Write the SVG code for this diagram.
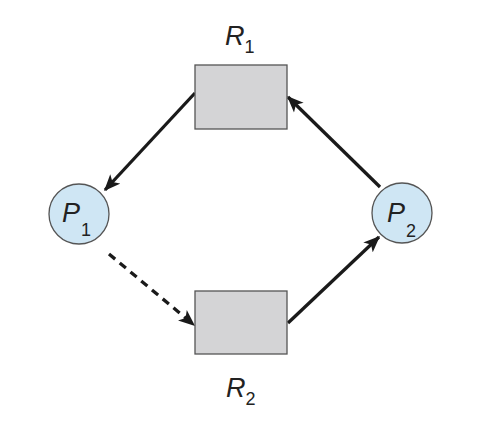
<svg xmlns="http://www.w3.org/2000/svg" width="485" height="426" viewBox="0 0 485 426">
<style>
.res{fill:#d4d4d6;stroke:#555;stroke-width:1.3}
.proc{fill:#cfe6f4;stroke:#555;stroke-width:1.3}
.lbl{font-family:"Liberation Sans",Arial,sans-serif;font-style:italic;font-size:27px;fill:#222}
.sub{font-family:"Liberation Sans",Arial,sans-serif;font-style:normal;font-size:18px;fill:#222}
.edge{stroke:#1a1a1a;stroke-width:3.3;fill:none;marker-end:url(#ah)}
.dash{stroke-dasharray:8,6}
</style>
<defs>
<marker id="ah" viewBox="0 0 12 10" refX="11" refY="5" markerWidth="5" markerHeight="4.5" orient="auto" markerUnits="strokeWidth">
<path d="M0,0 L12,5 L0,10 L3,5 Z" fill="#1a1a1a"/>
</marker>
</defs>
<rect width="485" height="426" fill="#fff"/>
<g id="connectors">
<line class="edge" x1="195" y1="93" x2="105" y2="190"/>
<line class="edge dash" x1="109" y1="254" x2="194" y2="325"/>
<line class="edge" x1="288" y1="323" x2="379" y2="237"/>
<line class="edge" x1="380" y1="187" x2="288" y2="97"/>
</g>
<g id="R1">
<rect class="res" x="195" y="65" width="92" height="64"/>
<text class="lbl" x="225" y="45">R<tspan class="sub" dx="0" dy="8">1</tspan></text>
</g>
<g id="R2">
<rect class="res" x="195" y="291" width="92" height="63"/>
<text class="lbl" x="226" y="397">R<tspan class="sub" dx="0" dy="8">2</tspan></text>
</g>
<g id="P1">
<circle class="proc" cx="79" cy="214" r="30"/>
<text class="lbl" x="62" y="222">P<tspan class="sub" dx="1" dy="14">1</tspan></text>
</g>
<g id="P2">
<circle class="proc" cx="402" cy="213" r="30"/>
<text class="lbl" x="387" y="222">P<tspan class="sub" dx="1" dy="15">2</tspan></text>
</g>
</svg>
